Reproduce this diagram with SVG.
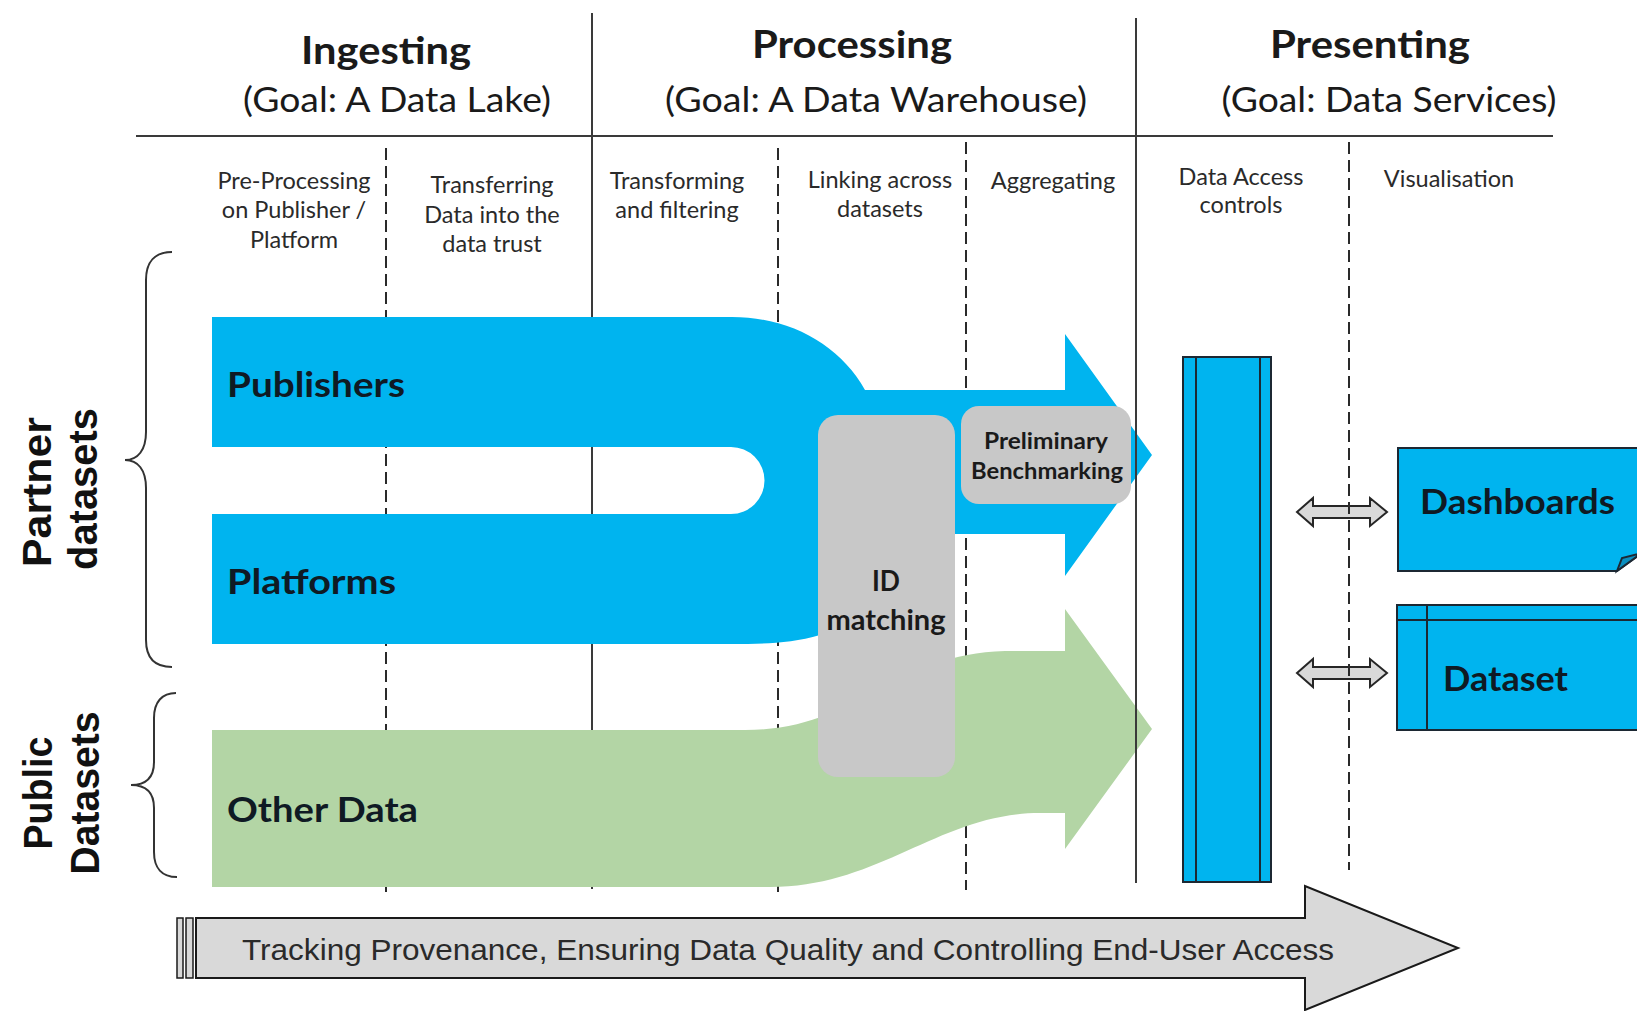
<svg xmlns="http://www.w3.org/2000/svg" width="1637" height="1011" viewBox="0 0 1637 1011">
<defs>
<style>
.h{font-family:Lato,"Liberation Sans",sans-serif;font-weight:700;font-size:38px;fill:#1a1a1a;text-anchor:middle}
.g{font-family:Lato,"Liberation Sans",sans-serif;font-weight:400;font-size:34px;fill:#1a1a1a;text-anchor:middle}
.s{font-family:Lato,"Liberation Sans",sans-serif;font-weight:400;font-size:23.5px;fill:#2a2a2a;text-anchor:middle}
.side{font-family:"Liberation Sans",Arial,sans-serif;font-weight:700;font-size:40px;fill:#111;text-anchor:middle}
.lbl{font-family:Lato,"Liberation Sans",sans-serif;font-weight:700;font-size:34px;fill:#0f1a24}
.box{font-family:Lato,"Liberation Sans",sans-serif;font-weight:700;fill:#1a1a1a;text-anchor:middle}
.trk{font-family:"Liberation Sans",Arial,sans-serif;font-weight:400;font-size:29px;fill:#2a2a2a}
.solid{stroke:#3a3a3a;stroke-width:2;fill:none}
.dash{stroke:#2a2a2a;stroke-width:2;stroke-dasharray:12 6;fill:none}
.brace{stroke:#333;stroke-width:2;fill:none}
.blue{fill:#00B4EF}
.green{fill:#B3D5A5}
.gray{fill:#C8C8C8}
.outl{stroke:#1c2833;stroke-width:2}
.dbl{fill:#D9D9D9;stroke:#262626;stroke-width:2}
</style>
</defs>
<rect width="1637" height="1011" fill="#fff"/>

<g id="grid-back">
  <line class="solid" x1="136" y1="136" x2="1553" y2="136"/>
  <line class="solid" x1="592" y1="13" x2="592" y2="889"/>
  <line class="dash" x1="386" y1="148" x2="386" y2="892"/>
  <line class="dash" x1="778" y1="148" x2="778" y2="892"/>
  <line class="dash" x1="966" y1="142" x2="966" y2="890"/>
</g>

<g id="headers">
  <text class="h" x="386" y="64" textLength="170" lengthAdjust="spacingAndGlyphs">Ingesting</text>
  <text class="g" x="397" y="112" textLength="308" lengthAdjust="spacingAndGlyphs">(Goal: A Data Lake)</text>
  <text class="h" x="852" y="58" textLength="200" lengthAdjust="spacingAndGlyphs">Processing</text>
  <text class="g" x="876" y="112" textLength="422" lengthAdjust="spacingAndGlyphs">(Goal: A Data Warehouse)</text>
  <text class="h" x="1370" y="58" textLength="200" lengthAdjust="spacingAndGlyphs">Presenting</text>
  <text class="g" x="1389" y="112" textLength="335" lengthAdjust="spacingAndGlyphs">(Goal: Data Services)</text>
</g>

<g id="stages">
  <text class="s" x="294" y="189">Pre-Processing</text>
  <text class="s" x="294" y="218">on Publisher /</text>
  <text class="s" x="294" y="248">Platform</text>
  <text class="s" x="492" y="193">Transferring</text>
  <text class="s" x="492" y="223">Data into the</text>
  <text class="s" x="492" y="252">data trust</text>
  <text class="s" x="677" y="189">Transforming</text>
  <text class="s" x="677" y="218">and filtering</text>
  <text class="s" x="880" y="188">Linking across</text>
  <text class="s" x="880" y="217">datasets</text>
  <text class="s" x="1053" y="189">Aggregating</text>
  <text class="s" x="1241" y="185">Data Access</text>
  <text class="s" x="1241" y="213">controls</text>
  <text class="s" x="1449" y="187">Visualisation</text>
</g>

<g id="partner-label">
  <path class="brace" d="M172,252 C155,252 146,262 146,280 V432 C146,450 138,460 125,460 C138,460 146,470 146,488 V640 C146,658 155,667 172,667"/>
  <text class="side" transform="translate(51,492) rotate(-90)" textLength="150" lengthAdjust="spacingAndGlyphs">Partner</text>
  <text class="side" transform="translate(97,489) rotate(-90)" textLength="162" lengthAdjust="spacingAndGlyphs">datasets</text>
</g>

<g id="public-label">
  <path class="brace" d="M176,693 C162,693 154,702 154,718 V762 C154,778 145,785 131,785 C145,785 154,792 154,808 V852 C154,868 162,877 177,877"/>
  <text class="side" transform="translate(52,793) rotate(-90)" textLength="113" lengthAdjust="spacingAndGlyphs">Public</text>
  <text class="side" transform="translate(99,793) rotate(-90)" textLength="163" lengthAdjust="spacingAndGlyphs">Datasets</text>
</g>

<g id="partner-flow">
  <path class="blue" d="M212,317 H732 C790,317 840,345 865,390 H1065 V334 L1152,455 L1065,576 V534 H940 L900,560 C880,600 850,625 820,635 C790,644 760,644 732,644 H212 V514 H731 A33.5,33.5 0 0 0 731,447 H212 Z"/>
  <text class="lbl" x="227" y="397" textLength="178" lengthAdjust="spacingAndGlyphs">Publishers</text>
  <text class="lbl" x="227" y="594" textLength="169" lengthAdjust="spacingAndGlyphs">Platforms</text>
</g>

<g id="public-flow">
  <path class="green" d="M212,730 H745 C860,730 890,654 1005,651 H1065 V609 L1152,729 L1065,849 V813 H1040 C940,813 880,887 770,887 H212 Z"/>
  <text class="lbl" x="227" y="822" textLength="191" lengthAdjust="spacingAndGlyphs">Other Data</text>
</g>

<g id="id-matching">
  <rect class="gray" x="818" y="415" width="137" height="362" rx="20"/>
  <text class="box" x="886" y="591" font-size="28" textLength="28" lengthAdjust="spacingAndGlyphs">ID</text>
  <text class="box" x="886" y="630" font-size="28" textLength="119" lengthAdjust="spacingAndGlyphs">matching</text>
</g>

<g id="benchmarking">
  <rect class="gray" x="961" y="406" width="170" height="98" rx="18"/>
  <text class="box" x="1046" y="449" font-size="22" textLength="124" lengthAdjust="spacingAndGlyphs">Preliminary</text>
  <text class="box" x="1047" y="479" font-size="22" textLength="152" lengthAdjust="spacingAndGlyphs">Benchmarking</text>
</g>

<g id="data-access">
  <rect class="blue outl" x="1183" y="357" width="88" height="525"/>
  <line class="outl" x1="1196" y1="357" x2="1196" y2="882"/>
  <line class="outl" x1="1260" y1="357" x2="1260" y2="882"/>
</g>

<g id="dashboards">
  <path class="blue outl" d="M1398,448 H1642 V553 L1617,571 H1398 Z"/>
  <path fill="#0a8fc0" class="outl" d="M1617,571 L1622,558 L1642,553 Z"/>
  <text class="lbl" x="1420" y="514" textLength="195" lengthAdjust="spacingAndGlyphs">Dashboards</text>
</g>

<g id="dataset">
  <rect class="blue outl" x="1397" y="605" width="250" height="125"/>
  <line class="outl" x1="1397" y1="620" x2="1642" y2="620"/>
  <line class="outl" x1="1427" y1="605" x2="1427" y2="730"/>
  <text class="lbl" x="1443" y="691" textLength="125" lengthAdjust="spacingAndGlyphs">Dataset</text>
</g>

<g id="connectors">
  <path class="dbl" d="M1297,512 L1313,498 V506 H1370 V498 L1387,512 L1370,526 V518 H1313 V526 Z"/>
  <path class="dbl" d="M1297,673 L1313,659 V667 H1370 V659 L1387,673 L1370,687 V679 H1313 V687 Z"/>
</g>

<g id="grid-front">
  <line class="solid" x1="1136" y1="18" x2="1136" y2="883"/>
  <line class="dash" x1="1349" y1="142" x2="1349" y2="870"/>
</g>

<g id="tracking">
  <rect fill="#D9D9D9" stroke="#1a1a1a" stroke-width="1.5" x="177" y="918" width="6" height="60"/>
  <rect fill="#D9D9D9" stroke="#1a1a1a" stroke-width="1.5" x="186" y="918" width="7" height="60"/>
  <path fill="#D9D9D9" stroke="#1a1a1a" stroke-width="2" d="M196,918 H1305 V886 L1458,948 L1305,1010 V978 H196 Z"/>
  <text class="trk" x="242" y="960" textLength="1092" lengthAdjust="spacingAndGlyphs">Tracking Provenance, Ensuring Data Quality and Controlling End-User Access</text>
</g>
</svg>
